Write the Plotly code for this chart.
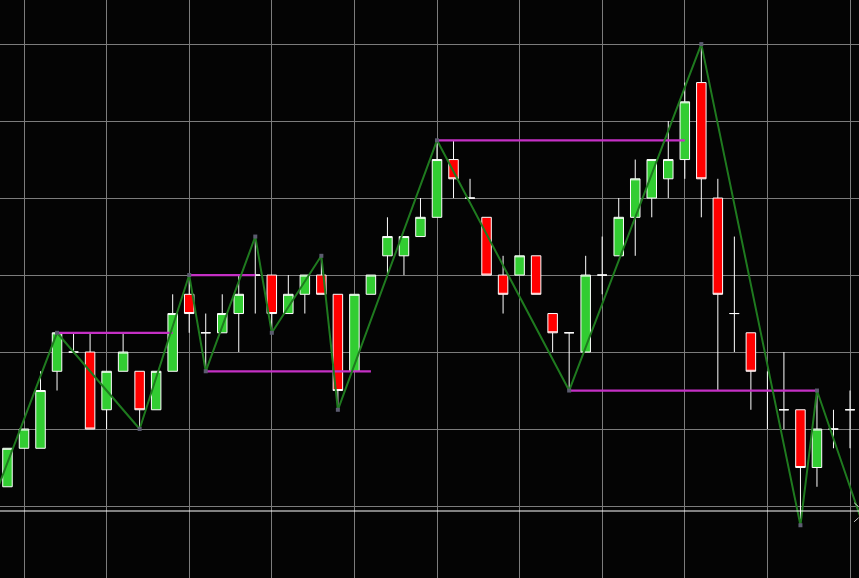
import plotly.graph_objects as go

# ---- data (price in chart units) ----
bar_index = list(range(52))
opens  = [1, 3, 3, 7, 8, 8, 5, 7, 7, 5, 7, 11, 9, 9, 10, 12, 12, 10, 11, 12, 11, 7, 11, 13, 13, 14,
          15, 18, 16, 15, 12, 12, 13, 10, 9, 8, 12, 13, 15, 16, 17, 18, 22, 16, 10, 9, 6, 5, 5, 2, 4, 5]
highs  = [3, 4, 7, 9, 9, 9, 7, 9, 7, 7, 11, 12, 10, 11, 12, 14, 12, 12, 12, 13, 11, 11, 12, 15, 14, 16,
          19, 19, 17, 15, 13, 13, 13, 10, 9, 13, 14, 16, 18, 18, 20, 22, 24, 17, 14, 9, 7, 8, 5, 6, 5, 6]
lows   = [1, 3, 3, 6, 8, 4, 4, 7, 4, 5, 7, 9, 7, 9, 8, 10, 9, 10, 10, 11, 5, 7, 11, 12, 12, 14,
          15, 16, 16, 12, 10, 12, 11, 8, 6, 8, 11, 13, 13, 15, 16, 17, 15, 6, 8, 5, 4, 4, -1, 1, 3, 3]
closes = [3, 4, 6, 9, 8, 4, 7, 8, 5, 7, 10, 10, 9, 10, 11, 12, 10, 11, 12, 11, 6, 11, 12, 14, 14, 15,
          18, 17, 16, 12, 11, 13, 11, 9, 9, 12, 12, 15, 17, 18, 18, 21, 17, 11, 10, 7, 6, 5, 2, 4, 4, 5]

# zigzag swing points
zigzag_index = [-1, 3, 8, 11, 12, 15, 16, 19, 20, 26, 34, 42, 48, 49, 52]
zigzag_price = [0, 9, 4, 12, 7, 14, 9, 13, 5, 19, 6, 24, -1, 6, -1.5]

# horizontal level segments (start bar, end bar, price)
level_start = [3, 11, 12, 26, 34]
level_end   = [10, 15, 22, 41, 49]
level_price = [9, 12, 7, 19, 6]

current_price = -0.26

grid_x = list(range(1, 52, 5))
grid_y = list(range(0, 25, 4))

BG = "#040404"
GRID = "#7c7c7c"

fig = go.Figure()

fig.add_trace(go.Candlestick(
    x=bar_index, open=opens, high=highs, low=lows, close=closes,
    increasing=dict(line=dict(color="white", width=1), fillcolor="#32cd32"),
    decreasing=dict(line=dict(color="white", width=1), fillcolor="#ff0000"),
    whiskerwidth=0, hoverinfo="skip", showlegend=False,
))

for s, e, p in zip(level_start, level_end, level_price):
    fig.add_trace(go.Scatter(
        x=[s, e], y=[p, p], mode="lines",
        line=dict(color="#c530c5", width=2.2),
        hoverinfo="skip", showlegend=False,
    ))

fig.add_trace(go.Scatter(
    x=zigzag_index, y=zigzag_price, mode="lines+markers",
    line=dict(color="#1f7a1f", width=2),
    marker=dict(symbol="square", size=4, color="#5c5c70"),
    hoverinfo="skip", showlegend=False,
))

fig.add_hline(y=current_price, line=dict(color="white", width=1.2))

# small price-tag chevron at the right end of the current price line
last = bar_index[-1]
fig.add_shape(type="line", x0=last + 0.25, x1=last + 0.52,
              y0=current_price + 0.43, y1=current_price + 0.22,
              line=dict(color="#d0d0d0", width=1))
fig.add_shape(type="line", x0=last + 0.25, x1=last + 0.52,
              y0=current_price - 0.56, y1=current_price - 0.35,
              line=dict(color="#d0d0d0", width=1))

fig.update_layout(
    width=859, height=578,
    margin=dict(l=0, r=0, t=0, b=0),
    paper_bgcolor=BG, plot_bgcolor=BG,
    boxgap=0.425, boxgroupgap=0,
    showlegend=False,
    xaxis=dict(range=[-0.453, 51.545], tickvals=grid_x, showticklabels=False,
               showgrid=True, gridcolor=GRID, gridwidth=1, zeroline=False,
               rangeslider=dict(visible=False), fixedrange=True, ticks=""),
    yaxis=dict(range=[-3.74, 26.29], tickvals=grid_y, showticklabels=False,
               showgrid=True, gridcolor=GRID, gridwidth=1, zeroline=False,
               fixedrange=True, ticks=""),
)

fig.write_html("out.html", config={"displayModeBar": False},
               post_script="document.body.style.margin='0';document.body.style.background='#040404';")
